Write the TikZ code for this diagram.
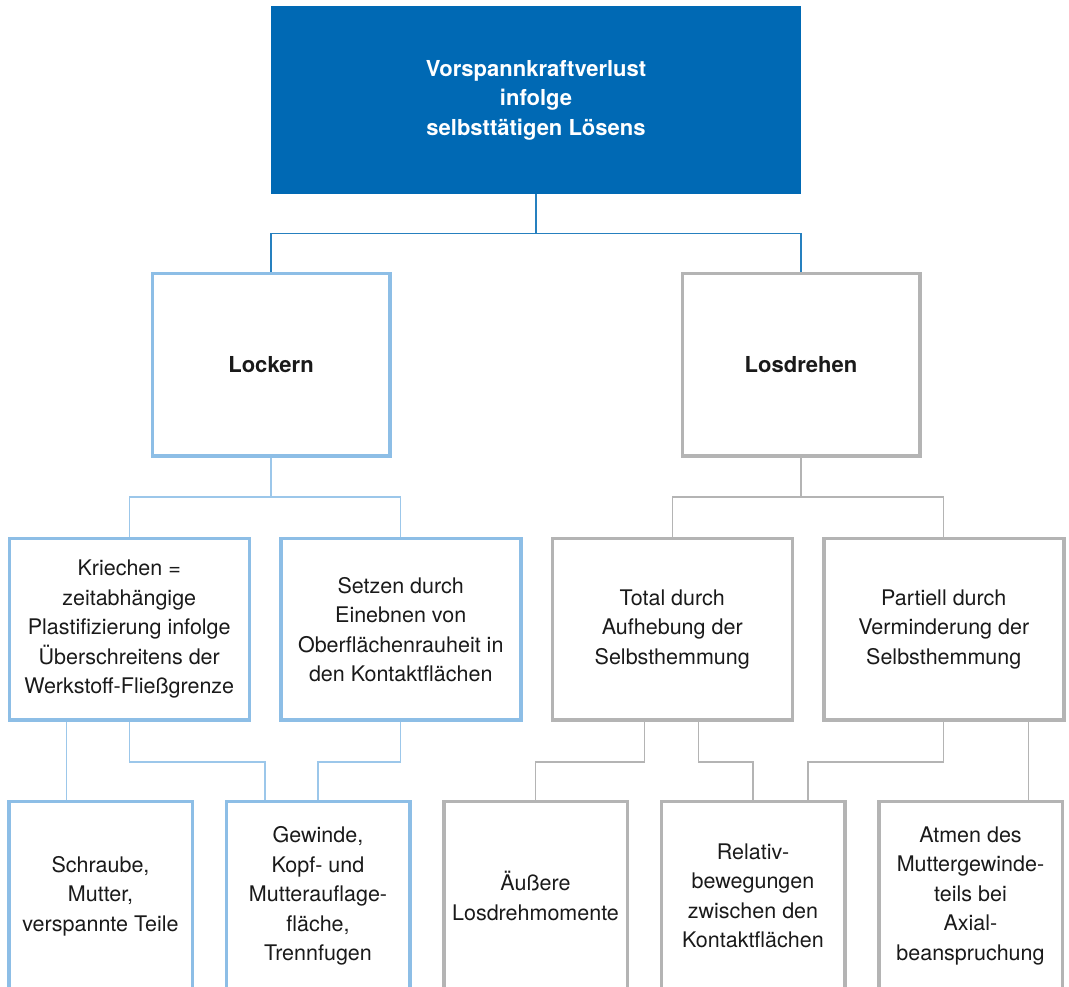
\documentclass[tikz,border=0pt]{standalone}
\usepackage{fontspec}
\setmainfont{TeX Gyre Heros}
\usepackage{xcolor}
\usepackage{tikz}
\usetikzlibrary{positioning}
\definecolor{deepblue}{HTML}{0069B4}
\definecolor{skyline}{HTML}{8DBEE6}
\definecolor{skylink}{HTML}{9CC7EA}
\definecolor{greyline}{HTML}{B4B4B4}
\definecolor{inktext}{HTML}{1A1A1A}

\begin{document}
\begin{tikzpicture}[
  txt/.style={align=center,text=inktext,font=\fontsize{21.5}{29.5}\selectfont},
  topbox/.style={fill=deepblue,minimum width=530pt,minimum height=188pt,align=center,text=white,font=\fontsize{22}{29.5}\selectfont\bfseries},
  lkhead/.style={draw=skyline,line width=3.5pt,minimum width=237.5pt,minimum height=182.5pt,txt,font=\fontsize{22}{29}\selectfont\bfseries},
  ldhead/.style={lkhead,draw=greyline},
  lkbox/.style={draw=skyline,line width=3.5pt,minimum width=240pt,minimum height=181.5pt,txt},
  ldbox/.style={lkbox,draw=greyline},
  lkleaf/.style={draw=skyline,line width=3.5pt,minimum width=183.5pt,minimum height=188.5pt,txt},
  ldleaf/.style={lkleaf,draw=greyline},
  topline/.style={draw=deepblue!85,line width=1.3pt},
  lkline/.style={draw=skylink,line width=1.3pt},
  ldline/.style={draw=greyline,line width=1.3pt}
]
\useasboundingbox (0,0) rectangle (1069pt,986pt);
\clip (0,0) rectangle (1069pt,986pt);

% root
\node[topbox] (top) at (536pt,886pt) {Vorspannkraftverlust\\infolge\\selbsttätigen Lösens};

% two branches
\node[lkhead] (lockern) at (271pt,621pt) {Lockern};
\node[ldhead,right=289pt of lockern] (losdrehen) {Losdrehen};

% causes
\node[lkbox] (kriechen) at (129.25pt,356.5pt) {Kriechen =\\zeitabhängige\\Plastifizierung infolge\\Überschreitens der\\Werkstoff-Fließgrenze};
\node[lkbox,right=28pt of kriechen] (setzen) {Setzen durch\\Einebnen von\\Oberflächenrauheit in\\den Kontaktflächen};
\node[ldbox,right=28pt of setzen] (total) {Total durch\\Aufhebung der\\Selbsthemmung};
\node[ldbox,right=28pt of total] (partiell) {Partiell durch\\Verminderung der\\Selbsthemmung};

% where it happens
\node[lkleaf] (schraube) at (100.5pt,90pt) {Schraube,\\Mutter,\\verspannte Teile};
\node[lkleaf,right=30.5pt of schraube] (gewinde) {Gewinde,\\Kopf- und\\Mutterauflage-\\fläche,\\Trennfugen};
\node[ldleaf,right=30.5pt of gewinde] (aeussere) {Äußere\\Losdrehmomente};
\node[ldleaf,right=30.5pt of aeussere] (relativ) {Relativ-\\bewegungen\\zwischen den\\Kontaktflächen};
\node[ldleaf,right=30.5pt of relativ] (atmen) {Atmen des\\Muttergewinde-\\teils bei\\Axial-\\beanspruchung};

% connectors
\draw[topline] (top.south) -- ++(0,-39pt) -| (lockern.north);
\draw[topline] (top.south) -- ++(0,-39pt) -| (losdrehen.north);

\draw[lkline] (lockern.south) -- ++(0,-39pt) -| (kriechen.north);
\draw[lkline] (lockern.south) -- ++(0,-39pt) -| (setzen.north);
\draw[ldline] (losdrehen.south) -- ++(0,-39pt) -| (total.north);
\draw[ldline] (losdrehen.south) -- ++(0,-39pt) -| (partiell.north);

\draw[lkline] ([xshift=-63pt]kriechen.south) -- ([xshift=-63pt]kriechen.south |- schraube.north);
\draw[lkline] (kriechen.south) -- ++(0,-40pt) -| ([xshift=-53pt]gewinde.north);
\draw[lkline] (setzen.south) -- ++(0,-40pt) -| (gewinde.north);
\draw[ldline] ([xshift=-28pt]total.south) -- ++(0,-40pt) -| (aeussere.north);
\draw[ldline] ([xshift=26pt]total.south) -- ++(0,-40pt) -| (relativ.north);
\draw[ldline] (partiell.south) -- ++(0,-40pt) -| ([xshift=55pt]relativ.north);
\draw[ldline] ([xshift=85pt]partiell.south) -- ([xshift=85pt]partiell.south |- atmen.north);
\end{tikzpicture}
\end{document}
